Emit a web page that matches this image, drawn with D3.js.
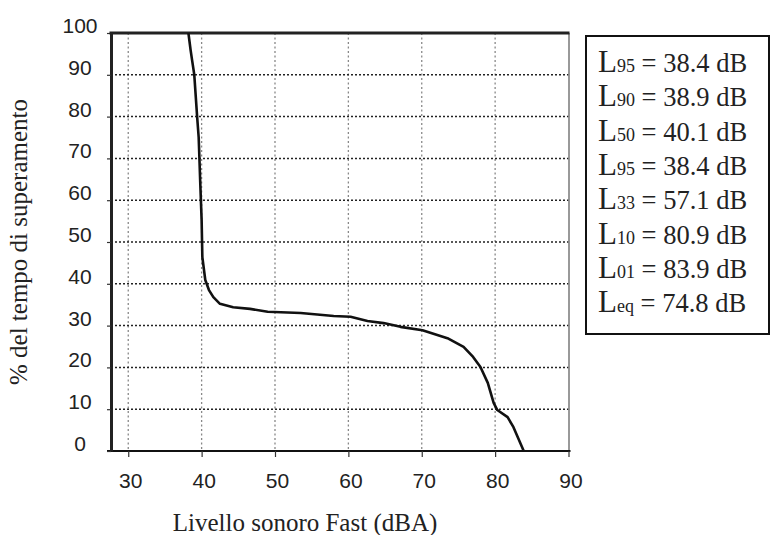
<!DOCTYPE html>
<html>
<head>
<meta charset="utf-8">
<script src="https://cdn.jsdelivr.net/npm/d3@7"></script>
<style>
  body { margin: 0; background: #fff; }
  svg { display: block; }
</style>
</head>
<body>
<div id="chart"></div>
<script>
// curve: sound level (dBA) vs % of time exceeded
let levels = [38.2, 38.5, 38.7, 39.0, 39.4, 39.6, 39.7, 39.8, 40.0, 40.1, 40.5, 41.0, 41.6, 42.5, 44.3, 46.6,
  49.0, 53.5, 58.0, 60.3, 62.6, 64.8, 67.1, 70.1, 73.5, 75.7, 77.0, 78.0, 79.0, 79.8, 80.3, 81.7, 82.5, 83.9]
let percents = [100, 95.9, 93.5, 90, 79.7, 75.0, 70, 64.8, 55.3, 46.4, 40.9, 38.5, 36.8, 35.2, 34.4, 34.0,
  33.3, 33.0, 32.3, 32.1, 31.1, 30.6, 29.7, 28.9, 27.0, 24.9, 22.5, 20.1, 16.3, 11.5, 9.8, 8.1, 5.7, 0]
let xTicks = [30, 40, 50, 60, 70, 80, 90]
let yTicks = [0, 10, 20, 30, 40, 50, 60, 70, 80, 90, 100]
let legendSubs = ["95", "90", "50", "95", "33", "10", "01", "eq"]
let legendValues = ["38.4", "38.9", "40.1", "38.4", "57.1", "80.9", "83.9", "74.8"]

let width = 772, height = 535
let plot = {left: 111, right: 568.5, top: 33, bottom: 451}

let svg = d3.select("#chart").append("svg")
  .attr("width", width)
  .attr("height", height)

let x = d3.scaleLinear().domain([27.65, 90]).range([plot.left, plot.right])
let y = d3.scaleLinear().domain([0, 100]).range([plot.bottom, plot.top])

// vertical grid
svg.append("g").selectAll("line")
  .data(xTicks.filter(d => d < 90))
  .enter().append("line")
  .attr("x1", d => x(d)).attr("x2", d => x(d))
  .attr("y1", plot.top).attr("y2", plot.bottom)
  .attr("stroke", "#888")
  .attr("stroke-width", 1.3)
  .attr("stroke-dasharray", "2,2.5")

// horizontal grid
svg.append("g").selectAll("line")
  .data(yTicks.filter(d => d > 0 && d < 100))
  .enter().append("line")
  .attr("x1", plot.left).attr("x2", plot.right)
  .attr("y1", d => y(d)).attr("y2", d => y(d))
  .attr("stroke", "#222")
  .attr("stroke-width", 1.5)
  .attr("stroke-dasharray", "2,2")

// right border
svg.append("line")
  .attr("x1", plot.right + 0.5).attr("x2", plot.right + 0.5)
  .attr("y1", plot.top).attr("y2", plot.bottom)
  .attr("stroke", "#777").attr("stroke-width", 1.5)

// X axis
let xAxis = svg.append("g")
  .attr("class", "xAxis")
  .attr("transform", `translate(0,${plot.bottom})`)
  .call(d3.axisBottom(x).tickValues(xTicks).tickSize(6).tickSizeOuter(0))
xAxis.select(".domain").attr("stroke", "#111").attr("stroke-width", 2)
  .attr("d", `M${plot.left - 4},0H${plot.right + 2}`)
xAxis.selectAll("line").attr("stroke", "#333").attr("stroke-width", 1.2)
xAxis.selectAll("text")
  .attr("y", 37).attr("dy", 0).attr("dx", 2)
  .attr("font-family", "Liberation Sans, Arial, sans-serif")
  .attr("font-size", 21).attr("fill", "#222")

// Y axis
let yAxis = svg.append("g")
  .attr("class", "yAxis")
  .attr("transform", `translate(${plot.left},0)`)
  .call(d3.axisLeft(y).tickValues(yTicks).tickSize(4).tickSizeOuter(0))
yAxis.select(".domain").attr("stroke", "#222").attr("stroke-width", 3)
yAxis.selectAll("line").attr("stroke", "#333").attr("stroke-width", 1.2)
yAxis.selectAll("text")
  .attr("x", 80 - plot.left).attr("dy", "-0.02em")
  .attr("text-anchor", "middle")
  .attr("font-family", "Liberation Sans, Arial, sans-serif")
  .attr("font-size", 21).attr("fill", "#222")

// top border
svg.append("line")
  .attr("x1", plot.left - 1.5).attr("x2", plot.right + 1)
  .attr("y1", plot.top).attr("y2", plot.top)
  .attr("stroke", "#222").attr("stroke-width", 3)

// curve
let line = d3.line()
  .x((d, i) => x(levels[i]))
  .y(d => y(d))
  .curve(d3.curveLinear)
svg.append("path")
  .attr("d", line(percents))
  .attr("fill", "none")
  .attr("stroke", "#111")
  .attr("stroke-width", 2.6)
  .attr("stroke-linejoin", "round")

// axis titles
svg.append("text")
  .attr("x", 305).attr("y", 531)
  .attr("text-anchor", "middle")
  .attr("font-family", "Liberation Serif, Times New Roman, serif")
  .attr("font-size", 25).attr("fill", "#222")
  .text("Livello sonoro Fast (dBA)")
svg.append("text")
  .attr("transform", "translate(27,242) rotate(-90)")
  .attr("text-anchor", "middle")
  .attr("font-family", "Liberation Serif, Times New Roman, serif")
  .attr("font-size", 25).attr("fill", "#222")
  .text("% del tempo di superamento")

// legend box
svg.append("rect")
  .attr("x", 586).attr("y", 36)
  .attr("width", 183).attr("height", 298)
  .attr("fill", "#fff")
  .attr("stroke", "#111").attr("stroke-width", 2)

let legend = svg.append("g").selectAll("text")
  .data(legendSubs)
  .enter().append("text")
  .attr("x", 598)
  .attr("y", (d, i) => 72 + i * 34.3)
  .attr("font-family", "Liberation Serif, Times New Roman, serif")
  .attr("fill", "#222")
legend.append("tspan").attr("font-size", 31).text("L")
legend.append("tspan").attr("font-size", 18).text(d => d)
legend.append("tspan").attr("font-size", 26.5).text((d, i) => ` = ${legendValues[i]} dB`)
</script>
</body>
</html>
